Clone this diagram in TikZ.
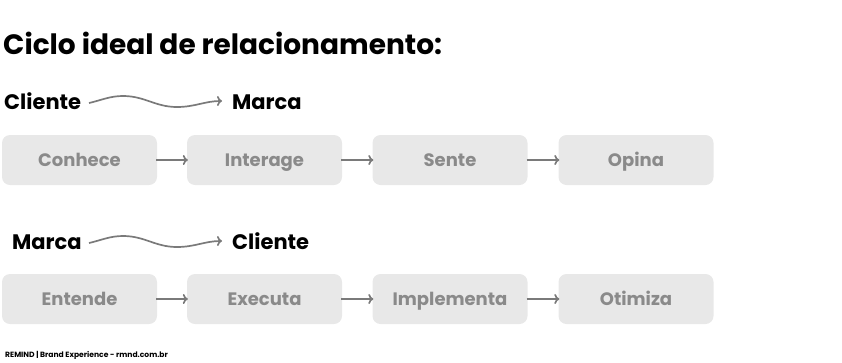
\documentclass[tikz,border=0pt]{standalone}
\usepackage{fontspec}
\setmainfont{Poppins}
\usetikzlibrary{arrows.meta}
\definecolor{boxfill}{HTML}{E8E8E8}
\definecolor{boxtext}{HTML}{8A8A8A}
\definecolor{arrowgray}{HTML}{7A7A7A}
\begin{document}
\begin{tikzpicture}[x=1pt,y=-1pt,
  stepbox/.style={fill=boxfill,rounded corners=8pt,minimum width=155pt,minimum height=50pt,inner sep=0pt,
    font=\bfseries\fontsize{18}{20}\selectfont,text=boxtext,text height=12.6pt,text depth=0pt},
  conn/.style={draw=arrowgray,line width=1.7pt,-{To[length=5pt,width=10pt]}},
  lbl/.style={font=\bfseries\fontsize{21}{24}\selectfont,text=black,inner sep=0pt,text height=14.7pt,text depth=0pt},
  wave/.style={draw=arrowgray,line width=1.7pt,-{To[length=5pt,width=10pt]}}]
\useasboundingbox (0,0) rectangle (842,362);
\node[anchor=base west,inner sep=0pt,font=\bfseries\fontsize{28}{32}\selectfont] (title) at (3,54) {Ciclo ideal de relacionamento:};
% row 1
\node[lbl,anchor=base west] (c1) at (4,109) {Cliente};
\node[lbl,anchor=base west] (m1) at (232,109) {Marca};
\coordinate (w1s) at (89,103);
\coordinate (w1e) at (222,101);
\draw[wave] (w1s) .. controls (102,100) and (110,96) .. (123,96) .. controls (145,96) and (155,107) .. (177,107) .. controls (195,107) and (205,101) .. (w1e);
\node[stepbox] (a1) at (79.5,160) {Conhece};
\node[stepbox] (a2) at (264.5,160) {Interage};
\node[stepbox] (a3) at (450,160) {Sente};
\node[stepbox] (a4) at (636,160) {Opina};
\draw[conn] ([xshift=-1pt]a1.east) -- ([xshift=1pt]a2.west);
\draw[conn] ([xshift=-1pt]a2.east) -- ([xshift=1pt]a3.west);
\draw[conn] ([xshift=-1pt]a3.east) -- ([xshift=1pt]a4.west);
% row 2
\node[lbl,anchor=base west] (m2) at (12,249) {Marca};
\node[lbl,anchor=base west] (c2) at (232,249) {Cliente};
\coordinate (w2s) at (89,243);
\coordinate (w2e) at (222,241);
\draw[wave] (w2s) .. controls (102,240) and (110,236) .. (123,236) .. controls (145,236) and (155,247) .. (177,247) .. controls (195,247) and (205,241) .. (w2e);
\node[stepbox] (b1) at (79.5,299) {Entende};
\node[stepbox] (b2) at (264.5,299) {Executa};
\node[stepbox] (b3) at (450,299) {Implementa};
\node[stepbox] (b4) at (636,299) {Otimiza};
\draw[conn] ([xshift=-1pt]b1.east) -- ([xshift=1pt]b2.west);
\draw[conn] ([xshift=-1pt]b2.east) -- ([xshift=1pt]b3.west);
\draw[conn] ([xshift=-1pt]b3.east) -- ([xshift=1pt]b4.west);
\node[anchor=base west,inner sep=0pt,font=\bfseries\fontsize{7.6}{9}\selectfont] (foot) at (5,357) {REMIND | Brand Experience - rmnd.com.br};
\end{tikzpicture}
\end{document}
